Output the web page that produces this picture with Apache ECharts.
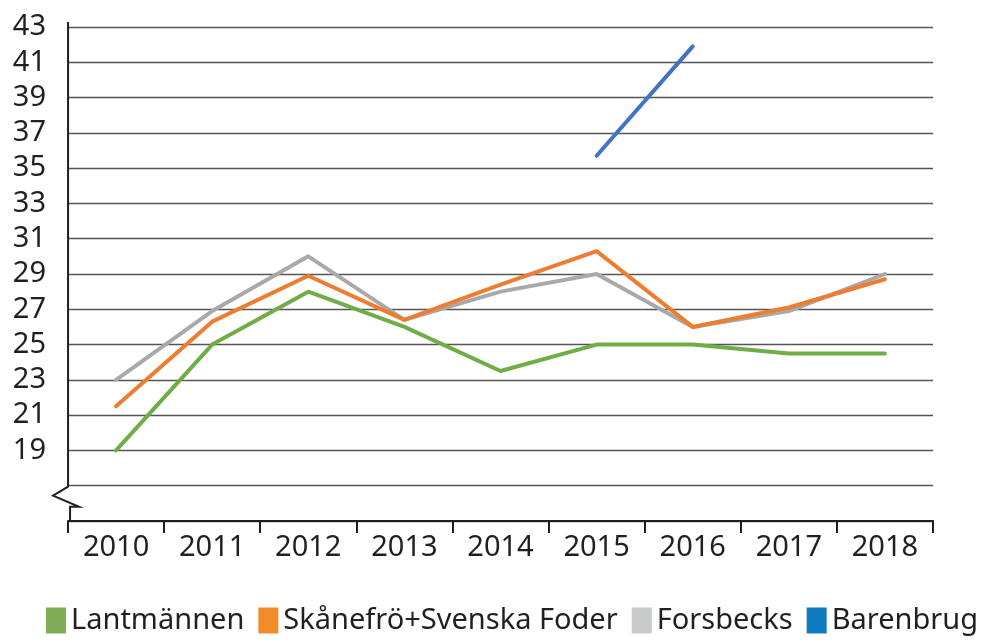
<!DOCTYPE html>
<html>
<head>
<meta charset="utf-8">
<script src="https://cdn.jsdelivr.net/npm/echarts@6/dist/echarts.min.js"></script>
<style>
  html, body { margin: 0; padding: 0; background: #fff; }
  #chart { width: 1000px; height: 640px; }
</style>
</head>
<body>
<div id="chart"></div>
<script>
const years = ['2010', '2011', '2012', '2013', '2014', '2015', '2016', '2017', '2018']
const lantmannen = [19, 25, 28, 26, 23.5, 25, 25, 24.5, 24.5]
const skanefro = [21.5, 26.3, 28.9, 26.4, 28.4, 30.3, 26, 27.1, 28.7]
const forsbecks = [23, 26.9, 30, 26.4, 28, 29, 26, 26.9, 29]
const barenbrug = [null, null, null, null, null, 35.7, 41.9, null, null]

const FONT = 'Noto Sans'
const chart = echarts.init(document.getElementById('chart'))

function lineSeries(name, data, color, z) {
  return {
    name,
    type: 'line',
    data,
    symbol: 'none',
    z,
    lineStyle: { color, width: 4, cap: 'round', join: 'round' },
    itemStyle: { color },
  }
}

const option = {
  animation: false,
  textStyle: { fontFamily: FONT },
  grid: { left: 68, right: 67, top: 27, bottom: 119 },
  legend: {
    bottom: 5,
    left: 46,
    width: 954,
    padding: 0,
    itemWidth: 20,
    itemHeight: 26,
    itemGap: 14,
    icon: 'rect',
    textStyle: { fontFamily: FONT, fontSize: 29, color: '#231f20', padding: [0, 0, 0, 0] },
    data: [
      { name: 'Lantmännen', itemStyle: { color: '#7fac56' } },
      { name: 'Skånefrö+Svenska Foder', itemStyle: { color: '#f28c28' } },
      { name: 'Forsbecks', itemStyle: { color: '#c8c9cb' } },
      { name: 'Barenbrug', itemStyle: { color: '#0f7bc0' } },
    ],
  },
  xAxis: {
    type: 'category',
    data: years,
    boundaryGap: true,
    axisLine: { lineStyle: { color: '#231f20', width: 2 } },
    axisTick: { show: true, length: 12, lineStyle: { color: '#231f20', width: 2 } },
    axisLabel: { fontFamily: FONT, fontSize: 29, color: '#231f20', margin: 12 },
  },
  yAxis: {
    type: 'value',
    min: 15,
    max: 43,
    interval: 2,
    axisLine: { show: false },
    axisTick: { show: false },
    axisLabel: {
      fontFamily: FONT,
      fontSize: 29,
      color: '#231f20',
      margin: 22,
      formatter: v => (v < 19 ? '' : String(v)),
    },
    splitLine: {
      show: true,
      lineStyle: { color: '#555', width: 1.3 },
    },
  },
  series: [
    lineSeries('Lantmännen', lantmannen, '#70ad47', 2),
    lineSeries('Forsbecks', forsbecks, '#a9a9a9', 3),
    lineSeries('Skånefrö+Svenska Foder', skanefro, '#ed7d31', 4),
    lineSeries('Barenbrug', barenbrug, '#4472c4', 5),
  ],
}

chart.setOption(option)

// broken y axis line with zigzag between the x axis and the first grid line
const x0 = chart.convertToPixel({ xAxisIndex: 0 }, 0) - 48
const yTop = chart.convertToPixel({ yAxisIndex: 0 }, 43) - 5
const y17 = chart.convertToPixel({ yAxisIndex: 0 }, 17)
const y15 = chart.convertToPixel({ yAxisIndex: 0 }, 15)
chart.setOption({
  graphic: [
    {
      type: 'rect',
      shape: { x: x0 - 1, y: y17 + 1, width: 3, height: y15 - y17 - 2 },
      style: { fill: '#fff' },
      z: 100,
    },
    {
      type: 'polyline',
      shape: {
        points: [
          [x0, yTop], [x0, y17 + 1], [x0 - 15, y17 + 10], [x0 + 11, y17 + 21],
          [x0 + 2, y17 + 21], [x0 + 2, y15],
        ],
      },
      style: { stroke: '#231f20', lineWidth: 2, fill: null },
      z: 101,
    },
  ],
})
</script>
</body>
</html>
